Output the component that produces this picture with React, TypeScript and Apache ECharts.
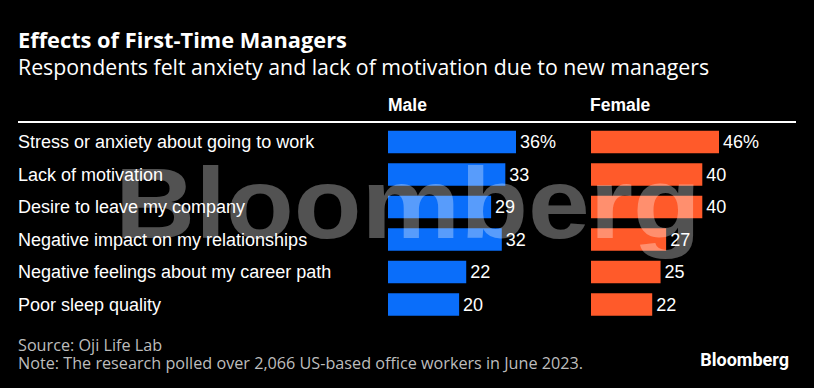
import React, { useEffect, useRef } from "react";
import * as echarts from "echarts";

const categories = [
  "Stress or anxiety about going to work",
  "Lack of motivation",
  "Desire to leave my company",
  "Negative impact on my relationships",
  "Negative feelings about my career path",
  "Poor sleep quality",
];
const maleValues = [36, 33, 29, 32, 22, 20];
const femaleValues = [46, 40, 40, 27, 25, 22];
const panelNames = ["Male", "Female"];

const TITLE = "Effects of First-Time Managers";
const SUBTITLE = "Respondents felt anxiety and lack of motivation due to new managers";
const SOURCE = "Source: Oji Life Lab";
const NOTE = "Note: The research polled over 2,066 US-based office workers in June 2023.";

const BLUE = "#0A6EFA";
const ORANGE = "#FF5A2A";
const LABEL_FONT = "'Liberation Sans', Arial, Helvetica, sans-serif";
const HEAD_FONT = "'Open Sans', Roboto, sans-serif";
const LOGO_FONT = "Roboto, 'Liberation Sans', sans-serif";

export default function App() {
  const ref = useRef<HTMLDivElement>(null);
  useEffect(() => {
    if (!ref.current) return;
    const chart = echarts.init(ref.current, null, { renderer: "svg" });
    const gridTop = 125.75;
    const gridHeight = 195;
    const valueLabel = {
      show: true,
      position: "right",
      distance: 4,
      color: "#fff",
      fontSize: 18,
      fontFamily: LABEL_FONT,
      formatter: (p: any) => (p.dataIndex === 0 ? p.value + "%" : String(p.value)),
    };
    chart.setOption({
      animation: false,
      backgroundColor: "#000",
      grid: [
        { left: 388, top: gridTop, width: 128, height: gridHeight },
        { left: 591, top: gridTop, width: 128, height: gridHeight },
      ],
      xAxis: [
        { type: "value", gridIndex: 0, min: 0, max: 36, show: false },
        { type: "value", gridIndex: 1, min: 0, max: 46, show: false },
      ],
      yAxis: [
        {
          type: "category",
          gridIndex: 0,
          data: categories,
          inverse: true,
          axisLine: { show: false },
          axisTick: { show: false },
          splitLine: { show: false },
          axisLabel: {
            color: "#fff",
            fontSize: 18,
            fontFamily: LABEL_FONT,
            align: "left",
            margin: 370,
          },
        },
        {
          type: "category",
          gridIndex: 1,
          data: categories,
          inverse: true,
          show: false,
        },
      ],
      series: [
        {
          type: "bar",
          name: panelNames[0],
          xAxisIndex: 0,
          yAxisIndex: 0,
          data: maleValues,
          barWidth: 22.5,
          itemStyle: { color: BLUE },
          label: valueLabel,
        },
        {
          type: "bar",
          name: panelNames[1],
          xAxisIndex: 1,
          yAxisIndex: 1,
          data: femaleValues,
          barWidth: 22.5,
          itemStyle: { color: ORANGE },
          label: valueLabel,
        },
      ],
      graphic: [
        {
          type: "text",
          x: 18,
          y: 39.5,
          style: { text: TITLE, fill: "#fff", font: `bold 21.8px ${HEAD_FONT}`, verticalAlign: "middle" },
        },
        {
          type: "text",
          x: 18,
          y: 66,
          style: { text: SUBTITLE, fill: "#fff", font: `21.3px ${HEAD_FONT}`, verticalAlign: "middle" },
        },
        {
          type: "text",
          x: 388,
          y: 104.5,
          style: { text: panelNames[0], fill: "#fff", font: `bold 17.5px ${LABEL_FONT}`, verticalAlign: "middle" },
        },
        {
          type: "text",
          x: 590,
          y: 104.5,
          style: { text: panelNames[1], fill: "#fff", font: `bold 17.5px ${LABEL_FONT}`, verticalAlign: "middle" },
        },
        {
          type: "line",
          shape: { x1: 18, y1: 122, x2: 796, y2: 122 },
          style: { stroke: "#fff", lineWidth: 2 },
        },
        {
          type: "text",
          x: 18,
          y: 354,
          style: {
            text: SOURCE + "\n" + NOTE,
            fill: "#bdbdbd",
            font: `16.2px ${HEAD_FONT}`,
            lineHeight: 17.3,
            verticalAlign: "middle",
          },
        },
        {
          type: "text",
          x: 789,
          y: 359,
          style: { text: "Bloomberg", fill: "#fff", font: `bold 18px ${LOGO_FONT}`, verticalAlign: "middle", align: "right" },
        },
        {
          type: "text",
          x: 115,
          y: 203,
          scaleX: 1.11,
          z: 100,
          silent: true,
          style: {
            text: "Bloomberg",
            fill: "rgba(255,255,255,0.32)",
            font: `bold 100px ${LABEL_FONT}`,
            verticalAlign: "middle",
          },
        },
      ],
    });
    return () => chart.dispose();
  }, []);
  return (
    <div
      ref={ref}
      style={{ position: "absolute", left: 0, top: 0, width: 814, height: 388 }}
    />
  );
}
